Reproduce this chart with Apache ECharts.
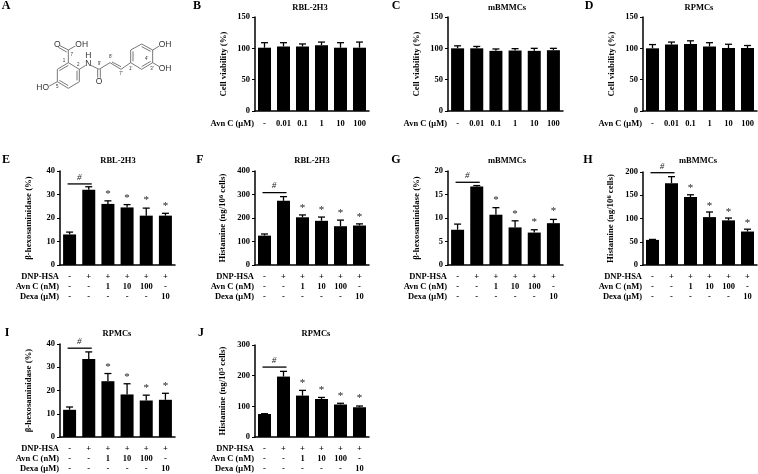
<!DOCTYPE html>
<html><head><meta charset="utf-8">
<style>html,body{margin:0;padding:0;background:#fff}#c{width:758px;height:474px;filter:blur(0.3px)}</style>
<script src="https://cdn.jsdelivr.net/npm/echarts@6/dist/echarts.min.js"></script>
</head><body><div id="c"></div>
<script>
// ---------- data ----------
const doseCats = ['-','0.01','0.1','1','10','100'];
const dnpRow  = ['-','+','+','+','+','+'];
const avnRow  = ['-','-','1','10','100','-'];
const dexaRow = ['-','-','-','-','-','10'];

const bVals=[101,103,103,105,101,101], bErr=[8,6,4,5,8,9];
const cVals=[100,100,96,96.5,96,97],   cErr=[4,3,3,3,4,3];
const dVals=[100,106,107,103,100.5,100.5], dErr=[6,4,5,6,6,4];

const eVals=[13,32,26,24.5,21,21],     eErr=[1,1.3,1.3,1.2,3.2,1];
const eStars=[null,null,31,29.5,28.4,26], eHash=34.5;
const fVals=[125,273,203,188,165,168], fErr=[7,18,10,16,26,7];
const fStars=[null,null,252,243,230,214], fHash=308;
const gVals=[7.5,16.7,10.7,8,6.9,8.9], gErr=[1.2,0.2,1.5,1.4,0.6,0.8];
const gStars=[null,null,14.2,11.3,9.5,11.9], gHash=17.6;
const hVals=[54,176,146,103,96,72],    hErr=[1,14,5,11,5,5];
const hStars=[null,null,170,131,118,95], hHash=198.5;
const iVals=[11.7,33.6,24,18.3,15.7,16], iErr=[1.2,3,3.3,4.6,2.3,2.8];
const iStars=[null,null,31,26.8,22,22.7], iHash=38.2;
const jVals=[75,197,135,124,106,97],   jErr=[1,17,17,5,4,4];
const jStars=[null,null,183,161,141,132], jHash=228;

const viability='Cell viability (%)', hexa='β-hexosaminidase (%)';
const hist6='Histamine (ng/10{s|6} cells)', hist5='Histamine (ng/10{s|5} cells)';

// ---------- layout ----------
const FONT='"Liberation Serif","Times New Roman",serif';
const stim=dnpRow.map((d,i)=>d+'\n'+avnRow[i]+'\n'+dexaRow[i]);
const panels=[
 {t:'RBL-2H3',tx:310,ty:8,l:'B',lx:197,ly:6,x:255,y:17,w:114,h:94,max:150,step:50,name:viability,v:bVals,e:bErr},
 {t:'mBMMCs',tx:507,ty:8,l:'C',lx:396,ly:6,x:448,y:17,w:115,h:94,max:150,step:50,name:viability,v:cVals,e:cErr},
 {t:'RPMCs',tx:699,ty:8,l:'D',lx:589,ly:6,x:643,y:17,w:114,h:94,max:150,step:50,name:viability,v:dVals,e:dErr},
 {t:'RBL-2H3',tx:118,ty:161,l:'E',lx:6,ly:160,x:60,y:171,w:115,h:94,max:40,step:10,name:hexa,v:eVals,e:eErr,s:eStars,hash:eHash,full:1},
 {t:'RBL-2H3',tx:312,ty:161,l:'F',lx:200,ly:160,x:255,y:171,w:114,h:94,max:400,step:100,name:hist6,v:fVals,e:fErr,s:fStars,hash:fHash,full:1},
 {t:'mBMMCs',tx:507,ty:161,l:'G',lx:396,ly:160,x:448,y:171,w:115,h:94,max:20,step:5,name:hexa,v:gVals,e:gErr,s:gStars,hash:gHash,full:1},
 {t:'mBMMCs',tx:698,ty:161,l:'H',lx:588,ly:160,x:643,y:172,w:114,h:93,max:200,step:50,name:hist6,v:hVals,e:hErr,s:hStars,hash:hHash,full:1},
 {t:'RPMCs',tx:117,ty:334,l:'I',lx:7,ly:333,x:60,y:344,w:115,h:95,max:40,step:10,name:hexa,v:iVals,e:iErr,s:iStars,hash:iHash,full:1},
 {t:'RPMCs',tx:316,ty:334,l:'J',lx:201,ly:333,x:255,y:345,w:114,h:93,max:300,step:100,name:hist5,v:jVals,e:jErr,s:jStars,hash:jHash,full:1}
];
const txt=(size,bold)=>({fontFamily:FONT,fontSize:size,fontWeight:bold?'bold':'normal',color:'#000'});
const grid=[],xAxis=[],yAxis=[],series=[],graphic=[];

panels.forEach((p,k)=>{
 grid.push({left:p.x,top:p.y,width:p.w,height:p.h});
 xAxis.push({type:'category',gridIndex:k,data:p.full?stim:doseCats,
   name:p.full?'DNP-HSA\nAvn C (nM)\nDexa (μM)':'Avn C (μM)',nameLocation:'start',nameGap:1,nameMoveOverlap:false,
   nameTextStyle:{...txt(8.5,true),align:'right',verticalAlign:'top',lineHeight:10,padding:[p.full?7:8,0,0,0]},
   axisLine:{lineStyle:{color:'#000',width:1.5}},
   axisTick:{alignWithLabel:true,length:3,lineStyle:{color:'#000',width:1}},
   axisLabel:{...txt(8.5,true),margin:p.full?7:8,lineHeight:10,interval:0}});
 yAxis.push({type:'value',gridIndex:k,min:0,max:p.max,interval:p.step,
   name:p.name,nameLocation:'middle',nameGap:27,nameMoveOverlap:false,
   nameTextStyle:{...txt(8.8,true),rich:{s:{...txt(6.5,true),verticalAlign:'bottom',padding:[0,0,3,0]}}},
   splitLine:{show:false},
   axisLine:{show:true,lineStyle:{color:'#000',width:1.5}},
   axisTick:{show:true,length:3,lineStyle:{color:'#000',width:1}},
   axisLabel:{...txt(8.5,true),margin:5}});
 series.push({type:'bar',xAxisIndex:k,yAxisIndex:k,data:p.v,barWidth:13,itemStyle:{color:'#000'},silent:true,animation:false});
 series.push({type:'custom',xAxisIndex:k,yAxisIndex:k,silent:true,animation:false,z:3,
   data:p.v.map((v,i)=>[i,v,p.e[i]]),
   renderItem:(o,api)=>{
     const a=api.coord([api.value(0),api.value(1)]),b=api.coord([api.value(0),api.value(1)+api.value(2)]);
     const st={stroke:'#000',lineWidth:1.3};
     return {type:'group',children:[
       {type:'line',shape:{x1:a[0],y1:a[1],x2:b[0],y2:b[1]},style:st},
       {type:'line',shape:{x1:b[0]-3.5,y1:b[1],x2:b[0]+3.5,y2:b[1]},style:st}]};
   }});
 if(p.s){
  series.push({type:'custom',xAxisIndex:k,yAxisIndex:k,silent:true,animation:false,z:4,
   data:p.s.map((v,i)=>[i,v]).filter(d=>d[1]!=null),
   renderItem:(o,api)=>{
     const c=api.coord([api.value(0),api.value(1)]);
     return {type:'text',x:c[0],y:c[1]+2,style:{text:'*',align:'center',verticalAlign:'middle',fill:'#222',font:'11px '+FONT}};
   }});
  series.push({type:'custom',xAxisIndex:k,yAxisIndex:k,silent:true,animation:false,z:4,
   data:[[0,p.hash,1]],
   renderItem:(o,api)=>{
     const a=api.coord([api.value(0),api.value(1)]),b=api.coord([api.value(2),api.value(1)]);
     return {type:'group',children:[
       {type:'line',shape:{x1:a[0]-2,y1:a[1],x2:b[0]+3,y2:b[1]},style:{stroke:'#000',lineWidth:1.3}},
       {type:'text',x:(a[0]+b[0])/2,y:a[1]-6.5,style:{text:'#',align:'center',verticalAlign:'middle',fill:'#222',font:'italic 9px '+FONT}}]};
   }});
 }
 graphic.push({type:'text',x:p.tx,y:p.ty,silent:true,style:{text:p.t,fill:'#000',font:'bold 8.5px '+FONT,align:'center',verticalAlign:'middle'}});
 graphic.push({type:'text',x:p.lx,y:p.ly,silent:true,style:{text:p.l,fill:'#000',font:'bold 12px '+FONT,align:'center',verticalAlign:'middle'}});
});

// ---------- panel A: structure drawing ----------
graphic.push({type:'text',x:6,y:6,silent:true,style:{text:'A',fill:'#000',font:'bold 12px '+FONT,align:'center',verticalAlign:'middle'}});
const S=1/3, gr='#555';
const bonds=[
 [[205,188],[238,208],[238,245],[205,265],[172,245],[172,208],[205,188]],
 [[231,212],[231,241]],[[205,257],[178,241]],[[178,212],[205,196]],
 [[205,188],[205,150]],[[205,150],[180,137]],[[200,156],[175,142]],[[205,150],[226,138]],
 [[238,208],[257,196]],[[273,196],[297,208]],[[293,208],[293,233]],[[301,208],[301,233]],
 [[297,208],[330,188]],[[330,188],[363,208]],[[336,186],[363,200]],[[363,208],[392,188]],
 [[392,188],[392,150],[425,132],[458,150],[458,188],[425,208],[392,188]],
 [[399,184],[399,154]],[[425,140],[452,154]],[[452,184],[425,200]],
 [[458,150],[478,138]],[[458,188],[478,200]],[[172,245],[148,258]]
];
bonds.forEach(b=>graphic.push({type:'polyline',silent:true,shape:{points:b.map(q=>[q[0]*S,q[1]*S])},style:{stroke:gr,lineWidth:0.8,fill:null}}));
[['O',172,134,8.5],['OH',245,135,8.5],['N',265,190,8.5],['H',265,166,8.5],['O',297,245,8.5],['OH',495,135,8.5],['OH',495,207,8.5],['HO',128,262,8.5],
 ['1',192,181,4.5],['2',235,194,4.5],['5',172,260,4.5],['7',215,165,4.5],['9\'',298,191,4.5],['8\'',332,170,4.5],['7\'',363,222,4.5],['1\'',392,205,4.5],['3\'',456,205,4.5],['4\'',440,175,4.5]]
 .forEach(a=>graphic.push({type:'text',x:a[1]*S,y:a[2]*S,silent:true,style:{text:a[0],fill:'#333',font:a[3]+'px "Liberation Sans",sans-serif',align:'center',verticalAlign:'middle'}}));

const chart=echarts.init(document.getElementById('c'),null,{renderer:'canvas',width:758,height:474});
chart.setOption({animation:false,backgroundColor:'#fff',grid,xAxis,yAxis,series,graphic});
</script></body></html>
